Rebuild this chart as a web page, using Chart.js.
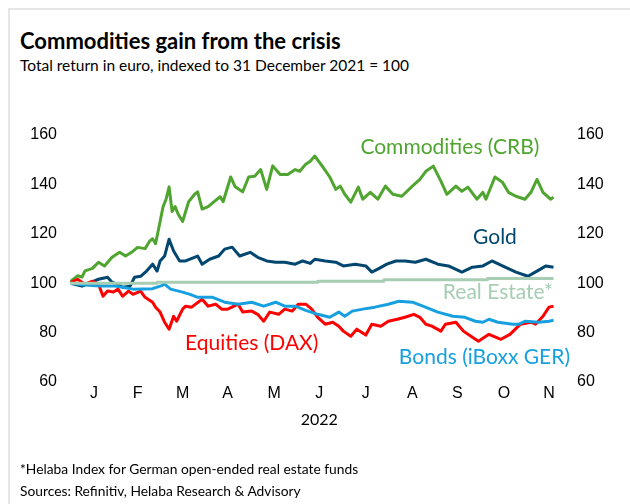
<!DOCTYPE html>
<html>
<head>
<meta charset="utf-8">
<script src="https://cdn.jsdelivr.net/npm/chart.js@4.4.1/dist/chart.umd.min.js"></script>
<style>
  body { margin: 0; background: #fff; font-family: Lato, sans-serif; color: #000; }
  #wrap { position: relative; width: 630px; height: 504px; overflow: hidden; }
  #frame { position: absolute; left: 8px; top: 8px; right: -10px; bottom: -10px;
           border-top: 2px solid #e6e6e6; border-left: 2px solid #e6e6e6; }
  .t { position: absolute; left: 20px; white-space: nowrap; line-height: 1; }
  #title { top: 30px; font-size: 22px; font-weight: bold; }
  #sub { top: 58px; font-size: 15.5px; }
  .foot { font-size: 13.8px; }
  canvas { position: absolute; left: 0; top: 0; }
</style>
</head>
<body>
<div id="wrap">
  <div id="frame"></div>
  <div class="t" id="title">Commodities gain from the crisis</div>
  <div class="t" id="sub">Total return in euro, indexed to 31 December 2021 = 100</div>
  <canvas id="chart" width="630" height="504"></canvas>
  <div class="t foot" style="top:462px">*Helaba Index for German open-ended real estate funds</div>
  <div class="t foot" style="top:484px">Sources: Refinitiv, Helaba Research &amp; Advisory</div>
</div>
<script>
// days since 31 Dec 2021
const monthLabels = ['J', 'F', 'M', 'A', 'M', 'J', 'J', 'A', 'S', 'O', 'N'];
const monthTicks  = [16, 45, 75, 105, 136, 166, 197, 228, 258, 289, 319];
const yearLabel = '2022';

const commDays = [0, 1, 5, 8, 10, 15, 19, 23, 28, 33, 37, 41, 45, 50, 53, 55, 57, 60, 62, 64, 66, 68, 70, 72, 75, 79, 83, 85, 88, 92, 96, 100, 102, 107, 110, 115, 119, 123, 127, 131, 135, 140, 145, 150, 153, 157, 160, 163, 168, 173, 177, 180, 183, 187, 192, 195, 200, 205, 210, 215, 221, 228, 233, 237, 242, 247, 251, 257, 261, 265, 271, 275, 277, 283, 288, 292, 297, 303, 307, 311, 315, 320, 322];
const commVals = [100, 101, 103, 102.5, 105, 106, 108.5, 107, 110.5, 112.5, 111, 112.5, 114.5, 114, 117, 118, 116, 125, 131, 134, 139, 129, 131, 128, 125, 133, 136, 137, 130, 131, 133, 135, 133, 143, 139, 137, 143, 143.3, 146, 138, 147.5, 144, 144, 146, 145.3, 148.2, 149.4, 151.5, 147.4, 143, 138, 139.3, 136, 132.8, 138.9, 134, 136.8, 134, 139.3, 136, 135.2, 139.3, 142, 145.3, 147.4, 141.3, 136, 139.3, 137.2, 138.9, 134, 136.8, 134, 143, 140.9, 136.8, 135.2, 134, 136.8, 142, 136.8, 134, 134.8];

const goldDays = [0, 8, 19, 25, 28, 35, 40, 43, 47, 51, 55, 58, 60, 63, 66, 69, 73, 77, 85, 88, 93, 99, 103, 108, 113, 120, 125, 131, 137, 143, 150, 155, 160, 163, 170, 177, 182, 190, 197, 201, 205, 211, 217, 223, 230, 237, 245, 252, 261, 268, 275, 281, 288, 297, 305, 311, 317, 322];
const goldVals = [100, 98.8, 101.6, 102.4, 100.4, 98.4, 98.8, 102.4, 102.8, 104.9, 107.7, 104.9, 109, 111, 117.8, 113, 109, 109, 111, 107.7, 109.7, 111, 113.8, 114.6, 111, 112.5, 110.5, 109, 108.5, 108.5, 107.7, 109, 108, 109.7, 109, 108.5, 107, 107.7, 107, 104.5, 105.7, 107.7, 109, 109, 108.5, 109.7, 107.7, 107, 104.5, 106.5, 107, 109, 107, 104.5, 102.8, 104.9, 107, 106.5];

const realDays = [0, 58, 165, 209, 278, 322];
const realVals = [100, 100.4, 100.8, 101.4, 101.9, 101.9];

const eqDays = [0, 1, 5, 10, 15, 19, 22, 25, 29, 32, 35, 39, 42, 47, 50, 55, 57, 60, 63, 66, 69, 71, 75, 77, 81, 88, 92, 97, 101, 105, 112, 115, 121, 125, 129, 133, 139, 143, 148, 152, 157, 161, 165, 170, 175, 179, 182, 187, 191, 197, 201, 207, 212, 218, 223, 229, 233, 237, 241, 247, 250, 257, 262, 268, 272, 279, 287, 293, 300, 307, 310, 315, 319, 322];
const eqVals = [100, 100.4, 101.6, 99.6, 100.8, 99.6, 94.7, 96.8, 96.4, 97.6, 94.7, 96.8, 95.5, 96.8, 94.3, 92.3, 90.3, 88.3, 84.2, 81.4, 86.6, 84.6, 89.5, 90.7, 90.3, 93.5, 90.7, 91.5, 89.5, 89.5, 91.5, 88.3, 88.7, 87.4, 84.6, 88.3, 87.4, 89.5, 88.7, 91.5, 91.5, 89.5, 86.2, 83.4, 84.2, 82.6, 80.6, 78.5, 81.4, 79, 83.4, 82.6, 84.6, 85.4, 86.2, 87.4, 86.2, 83.4, 82.6, 80.6, 83.4, 84.2, 80.6, 78.1, 76.5, 79.3, 77.3, 79.3, 83.4, 84.2, 83.4, 86.6, 90.3, 90.7];

const bondDays = [0, 8, 20, 30, 42, 55, 61, 63, 67, 75, 80, 85, 95, 103, 112, 121, 129, 137, 143, 150, 157, 165, 173, 179, 183, 188, 195, 203, 212, 219, 228, 235, 240, 245, 255, 263, 270, 275, 279, 285, 295, 299, 303, 312, 319, 322];
const bondVals = [100, 99.4, 98.9, 98.9, 97.6, 97.8, 99, 99.6, 97.6, 96.4, 95.5, 94.3, 94.3, 92.3, 91.5, 92.3, 90.7, 92.3, 90.7, 90.7, 89, 87.4, 86.2, 88.3, 86.6, 88.7, 89.5, 90.3, 91.5, 92.7, 92.3, 90.7, 89.5, 88.3, 86.6, 86.2, 84.6, 84.2, 85.4, 84.2, 83.4, 83.4, 84.6, 84.2, 84.6, 85];

const seriesNames = ['Commodities (CRB)', 'Gold', 'Real Estate*', 'Equities (DAX)', 'Bonds (iBoxx GER)'];
const colors = ['#4fa52f', '#00466f', '#a7cdb3', '#ff0000', '#17a0e0'];

// where each series name sits, in data units
const namePos = [[253, 152.2], [283, 115.8], [285, 93.5], [121, 72.9], [276, 67.2]];

function pts(days, vals) {
  return days.map((d, i) => ({ x: d, y: vals[i] }));
}

const seriesLabels = {
  id: 'seriesLabels',
  afterDatasetsDraw(chart) {
    const { ctx, scales: { x, y } } = chart;
    ctx.save();
    ctx.font = '21px Lato';
    ctx.textAlign = 'center';
    ctx.textBaseline = 'alphabetic';
    seriesNames.forEach((name, i) => {
      ctx.fillStyle = colors[i];
      ctx.fillText(name, x.getPixelForValue(namePos[i][0]), y.getPixelForValue(namePos[i][1]));
    });
    ctx.fillStyle = '#000';
    ctx.font = '16px Lato';
    ctx.textBaseline = 'middle';
    ctx.fillText(yearLabel, x.getPixelForValue(166), chart.chartArea.bottom + 38);
    ctx.restore();
  }
};

const yTicks = { font: { size: 16 }, color: '#000' };

new Chart(document.getElementById('chart'), {
  type: 'line',
  data: {
    datasets: [
      { label: seriesNames[2], data: pts(realDays, realVals), borderColor: colors[2], stepped: true },
      { label: seriesNames[4], data: pts(bondDays, bondVals), borderColor: colors[4] },
      { label: seriesNames[3], data: pts(eqDays, eqVals), borderColor: colors[3] },
      { label: seriesNames[1], data: pts(goldDays, goldVals), borderColor: colors[1] },
      { label: seriesNames[0], data: pts(commDays, commVals), borderColor: colors[0] }
    ]
  },
  options: {
    responsive: false,
    animation: false,
    layout: { padding: { top: 135, bottom: 72, left: 0, right: 0 } },
    elements: {
      line: { borderWidth: 3, tension: 0, borderJoinStyle: 'round', fill: false },
      point: { radius: 0 }
    },
    plugins: { legend: { display: false }, tooltip: { enabled: false } },
    scales: {
      x: {
        type: 'linear', min: 0, max: 323,
        grid: { display: false, drawTicks: false }, border: { display: false },
        afterBuildTicks: s => { s.ticks = monthTicks.map(v => ({ value: v })); },
        afterFit: s => { s.height = 50; },
        ticks: {
          autoSkip: false, maxRotation: 0, padding: 2,
          font: { size: 16 }, color: '#000',
          callback: (v, i) => monthLabels[i]
        }
      },
      y: {
        position: 'left', min: 60, max: 160,
        grid: { display: false, drawTicks: false }, border: { display: false },
        afterFit: s => { s.width = 70; },
        ticks: { ...yTicks, stepSize: 20, padding: 13 }
      },
      y2: {
        position: 'right', min: 60, max: 160,
        grid: { display: false, drawTicks: false }, border: { display: false },
        afterFit: s => { s.width = 75; },
        ticks: { ...yTicks, stepSize: 20, padding: 22 }
      }
    }
  },
  plugins: [seriesLabels]
});
</script>
</body>
</html>
